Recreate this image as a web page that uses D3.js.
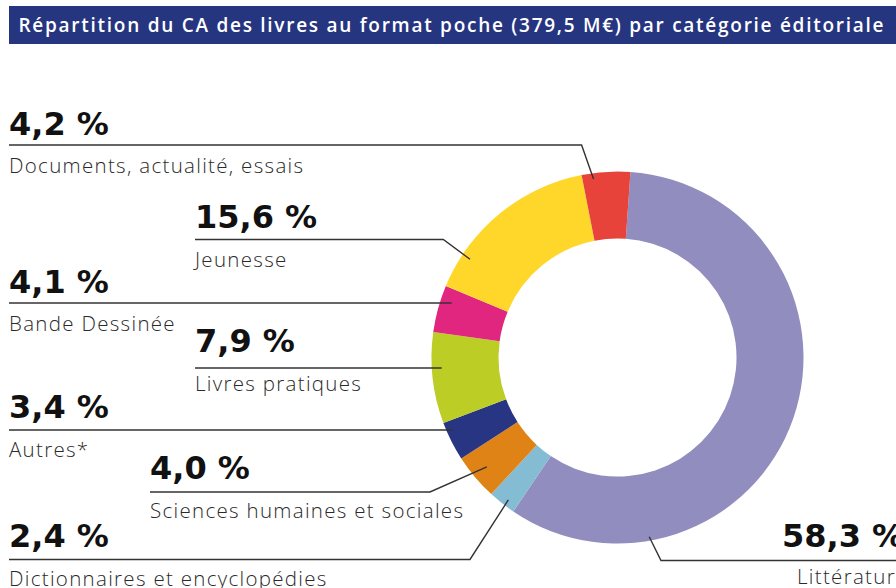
<!DOCTYPE html>
<html><head><meta charset="utf-8">
<script src="https://cdn.jsdelivr.net/npm/d3@7"></script>
<style>
html,body{margin:0;padding:0;background:#fff;}
svg{display:block;}
</style></head>
<body>
<svg id="chart" width="896" height="588"></svg>
<script>
// ---- data ----
const title = "Répartition du CA des livres au format poche (379,5 M€) par catégorie éditoriale";
const categories = ["Littérature","Dictionnaires et encyclopédies","Sciences humaines et sociales","Autres*","Livres pratiques","Bande Dessinée","Jeunesse","Documents, actualité, essais"];
const values = [58.3, 2.4, 4.0, 3.4, 7.9, 4.1, 15.6, 4.2];
const colors = ["#918dbe","#84bcd4","#e08316","#283583","#bccd26","#e1267f","#ffd72a","#e8433a"];

// ---- layout (annotation placement, not data) ----
const layout = [
  {x:782, nx:797, pY:547, lY:560.5, nY:584, t:0.79, r:182, elbow:661, toRight:true},
  {x:9, pY:547, lY:559.5, nY:585.5, t:0.39, r:179.5, elbow:470},
  {x:150, pY:479, lY:492, nY:517.5, t:0.51, r:170.4, elbow:430},
  {x:9, pY:418, lY:430, nY:457, r:179.8},
  {x:195, pY:352, lY:368, nY:390.5, r:176.1},
  {x:9, pY:293, lY:303, nY:331, r:174.5},
  {x:195, pY:228, lY:239.5, nY:267, t:0.196, r:177.2, elbow:443.3},
  {x:9, pY:134.5, lY:145, nY:172.5, t:0.23, r:180, elbow:581.6}
];

const svg = d3.select("#chart");
const W = 896, H = 588;
const cx = 617.5, cy = 357.5, rOuter = 186, rInner = 119;

// title bar
svg.append("rect").attr("x",9).attr("y",6).attr("width",W-9).attr("height",38).attr("fill","#263580");
const tt = svg.append("text").attr("x",18.5).attr("y",32).attr("fill","#fff")
  .attr("font-family","'Open Sans', Lato, sans-serif").attr("font-weight",600)
  .attr("font-size",19).text(title);
{
  const w = tt.node().getComputedTextLength();
  tt.attr("letter-spacing", ((865 - w)/(title.length-1)).toFixed(3));
}

const fr = d3.formatLocale({decimal:",", thousands:"\u00a0", grouping:[3], currency:["","€"]});
const fmt = v => fr.format(".1f")(v) + " %";

const startA = 4 * Math.PI/180;
const pie = d3.pie().sort(null).value(d=>d).startAngle(startA).endAngle(startA + 2*Math.PI);
const arcs = pie(values);
const arc = d3.arc().innerRadius(rInner).outerRadius(rOuter);

const g = svg.append("g").attr("transform",`translate(${cx},${cy})`);
g.selectAll("path").data(arcs).join("path")
  .attr("d",arc).attr("fill",(d,i)=>colors[i]);

const lineColor = "#333";
const nameFont = "'Open Sans', Lato, sans-serif";
const nameSize = 20.5;
let nameSpacing = 0;
{
  const probe = svg.append("text").attr("font-family",nameFont).attr("font-weight",300)
    .attr("font-size",nameSize).text(categories[2]);
  const w = probe.node().getComputedTextLength();
  nameSpacing = (313 - w)/(categories[2].length-1);
  probe.remove();
}

arcs.forEach((a,i)=>{
  const L = layout[i];
  let pts;
  if (L.elbow !== undefined) {
    const ang = a.startAngle + (a.endAngle - a.startAngle)*L.t;
    const tx = cx + L.r*Math.sin(ang), ty = cy - L.r*Math.cos(ang);
    if (L.toRight) pts = [[tx,ty],[L.elbow,L.lY],[W,L.lY]];
    else pts = [[L.x,L.lY],[L.elbow,L.lY],[tx,ty]];
  } else {
    const dy = L.lY - cy;
    const tx = cx - Math.sqrt(L.r*L.r - dy*dy);
    pts = [[L.x,L.lY],[tx,L.lY]];
  }
  svg.append("path").attr("d", d3.line()(pts)).attr("fill","none")
    .attr("stroke",lineColor).attr("stroke-width",1.4);
  svg.append("text").attr("x",L.x).attr("y",L.pY)
    .attr("font-family","'DejaVu Sans', sans-serif").attr("font-weight",700)
    .attr("font-size",32).attr("fill","#111").text(fmt(values[i]));
  svg.append("text").attr("x",L.nx !== undefined ? L.nx : L.x).attr("y",L.nY)
    .attr("font-family",nameFont).attr("font-weight",300)
    .attr("letter-spacing",nameSpacing.toFixed(3))
    .attr("font-size",nameSize).attr("fill","#2a2a2a").text(categories[i]);
});
</script>
</body></html>
